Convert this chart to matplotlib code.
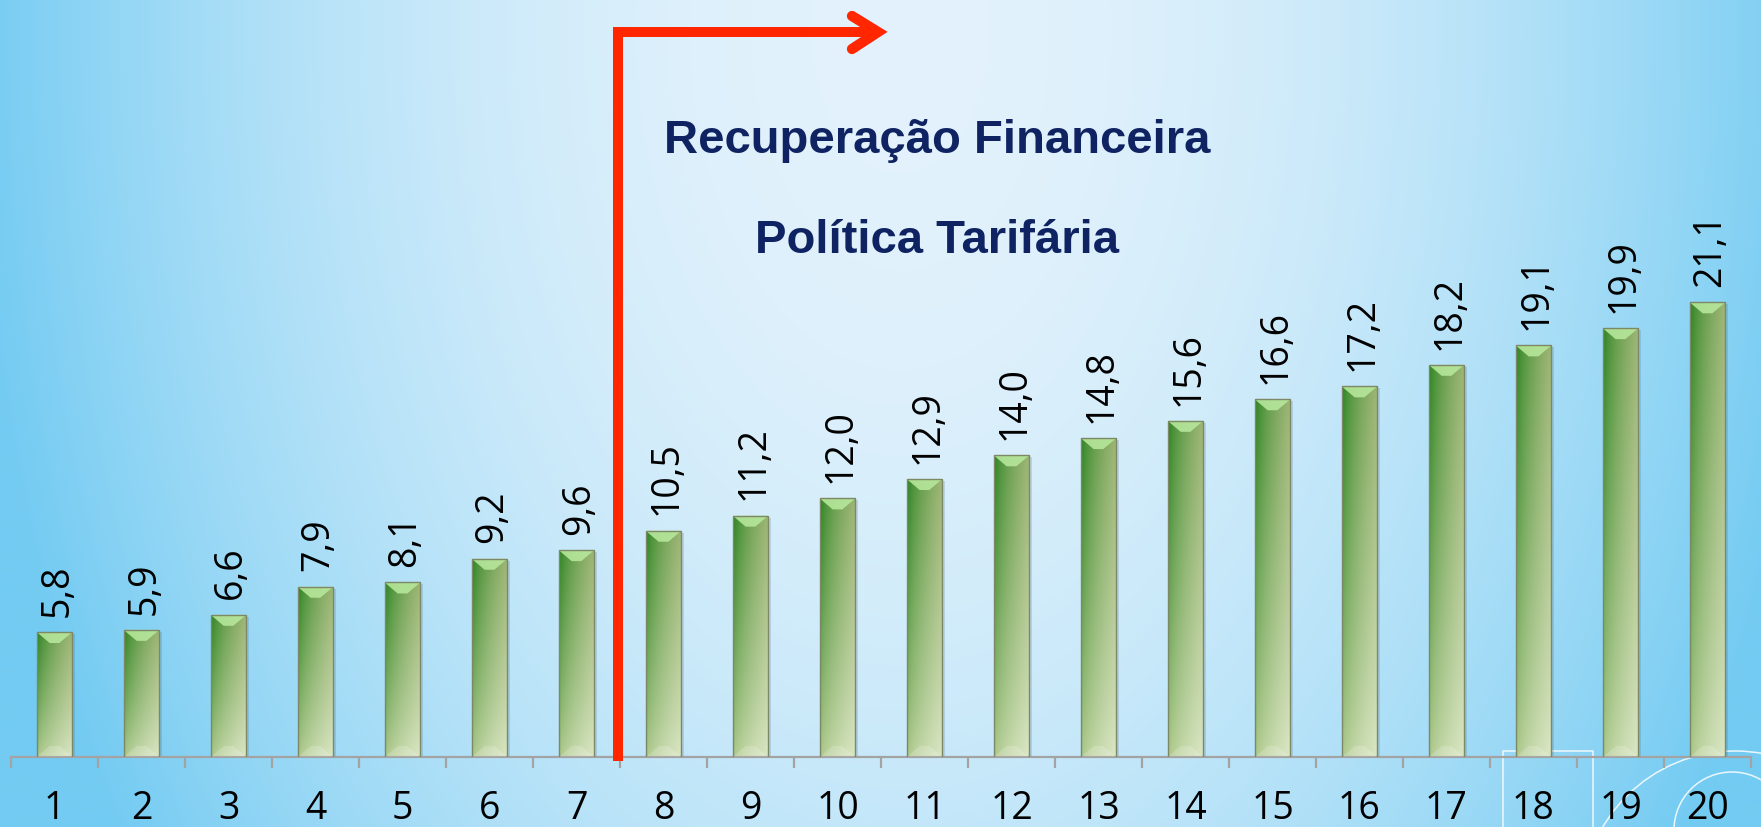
import numpy as np
import matplotlib
matplotlib.use("Agg")
import matplotlib.pyplot as plt
from matplotlib.patches import Polygon, Circle, Rectangle
from matplotlib.colors import to_rgb

# ---------------- data ----------------
categories = [str(i) for i in range(1, 21)]
values = [5.8, 5.9, 6.6, 7.9, 8.1, 9.2, 9.6, 10.5, 11.2, 12.0,
          12.9, 14.0, 14.8, 15.6, 16.6, 17.2, 18.2, 19.1, 19.9, 21.1]
value_labels = [f"{v:.1f}".replace(".", ",") for v in values]
annotation_lines = ["Recuperação Financeira", "Política Tarifária"]

plt.rcParams['font.family'] = ['Open Sans', 'DejaVu Sans']

W, H = 1761, 827
fig = plt.figure(figsize=(W / 100, H / 100), dpi=100)

# ---------------- background ----------------
bg = fig.add_axes([0, 0, 1, 1], zorder=0)
yy, xx = np.mgrid[0:H:2.0, 0:W:2.0]
r2 = ((xx - 900) / 930) ** 2 + ((yy - 30) / 1500) ** 2
r2 = np.clip(r2, 0, 1)
c0 = np.array(to_rgb("#e3f2fc"))
c1 = np.array(to_rgb("#73cbf2"))
bg_img = c0 + (c1 - c0) * r2[..., None]
bg.imshow(bg_img, extent=(0, W, H, 0), aspect='auto', interpolation='bilinear')
# decorative slide lines
deco = dict(color='white', lw=1.1, alpha=0.85)
bg.plot([1503, 1503, 1593, 1593], [827, 751, 751, 827], **deco)
bg.add_patch(Circle((1735, 904), 153, fill=False, ec='white', lw=1.1, alpha=0.85))
bg.add_patch(Circle((1732, 830), 58, fill=False, ec='white', lw=1.1, alpha=0.85))
bg.set_xlim(0, W)
bg.set_ylim(H, 0)
bg.axis('off')

# ---------------- chart ----------------
axis_y = 757
px_per_unit = 21.55
ax = fig.add_axes([11 / W, (H - axis_y) / H, 1740 / W, axis_y / H], zorder=1)
ax.patch.set_alpha(0)

x = np.arange(1, len(values) + 1)
bar_w = 0.41
bars = ax.bar(x, values, width=bar_w, facecolor='none', edgecolor='#7d8866',
              linewidth=1.0, zorder=4)

# gradient for bars
nx, ny = 60, 200
tx = np.linspace(0, 1, nx)[None, :]
ty = np.linspace(0, 1, ny)[:, None]
txp = tx ** 0.6
TL = np.array(to_rgb("#21801a"))
TR = np.array(to_rgb("#9fb676"))
BL = np.array(to_rgb("#a9c584"))
BR = np.array(to_rgb("#dce8c7"))
top = TL * (1 - txp[..., None]) + TR * txp[..., None]
bot = BL * (1 - txp[..., None]) + BR * txp[..., None]
typ = (ty ** 0.8)[..., None]
bar_grad = bot * (1 - typ) + top * typ

units_per_px_x = 20 / 1740
inset = 13 * units_per_px_x
depth = 11 / px_per_unit
for b in bars:
    x0, w, h = b.get_x(), b.get_width(), b.get_height()
    # soft shadow
    ax.add_patch(Rectangle((x0 + 2.5 * units_per_px_x, -2 / px_per_unit), w, h,
                           facecolor='#3a5a70', alpha=0.18, lw=0, zorder=1))
    im = ax.imshow(bar_grad, extent=(x0, x0 + w, 0, h), origin='lower',
                   aspect='auto', zorder=2, interpolation='bilinear')
    im.set_clip_path(b)
    ax.add_patch(Polygon([(x0, h), (x0 + w, h), (x0 + w - inset, h - depth),
                          (x0 + inset, h - depth)], closed=True,
                         facecolor='#b6e79b', edgecolor='none', alpha=0.9, zorder=3))
    ax.add_patch(Polygon([(x0, 0), (x0 + w, 0), (x0 + w - inset, depth),
                          (x0 + inset, depth)], closed=True,
                         facecolor='white', edgecolor='none', alpha=0.18, zorder=3))

for xi, v, lab in zip(x, values, value_labels):
    ax.annotate(lab, (xi, v), xytext=(2, 11), textcoords='offset points',
                rotation=90, ha='center', va='bottom', fontsize=27, color='black')

ax.set_xlim(0.5, len(values) + 0.5)
ax.set_ylim(0, axis_y / px_per_unit)
for s in ['top', 'left', 'right']:
    ax.spines[s].set_visible(False)
ax.spines['bottom'].set_color('#a3a3a3')
ax.spines['bottom'].set_linewidth(1.6)
ax.set_yticks([])
ax.set_xticks(np.arange(0.5, len(values) + 1, 1.0))
ax.set_xticklabels([])
ax.set_xticks(x, minor=True)
ax.set_xticklabels(categories, minor=True)
ax.tick_params(axis='x', which='major', length=8, width=1.6, color='#a3a3a3',
               direction='out', labelbottom=False)
ax.tick_params(axis='x', which='minor', length=0, pad=23.5, labelsize=27,
               labelcolor='black')

# ---------------- overlay: arrow and annotation ----------------
ov = fig.add_axes([0, 0, 1, 1], zorder=5)
ov.patch.set_alpha(0)
red = '#ff2600'
ov.plot([618, 618, 872], [761, 32, 32], color=red, lw=7.2,
        solid_joinstyle='miter', solid_capstyle='butt')
ov.plot([852, 878, 852], [16, 32, 49], color=red, lw=7.4,
        solid_joinstyle='miter', solid_capstyle='round')
ov.text(937, 153, annotation_lines[0], ha='center', va='baseline', fontsize=34,
        fontweight='bold', family='Liberation Sans', color='#0f2362')
ov.text(937, 253, annotation_lines[1], ha='center', va='baseline', fontsize=34,
        fontweight='bold', family='Liberation Sans', color='#0f2362')
ov.set_xlim(0, W)
ov.set_ylim(H, 0)
ov.axis('off')

fig.savefig('out.png', dpi=100)
